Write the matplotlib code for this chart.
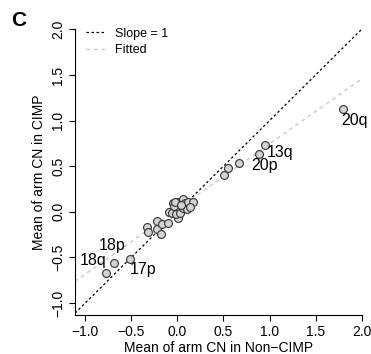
import matplotlib
matplotlib.use("Agg")
import matplotlib.pyplot as plt

plt.rcParams['font.family'] = ['Liberation Sans', 'DejaVu Sans']

# Mean arm CN: Non-CIMP (x) vs CIMP (y)
non_cimp = [-0.331, -0.313, -0.222, -0.216, -0.168, -0.179, -0.103, -0.092, -0.060,
            -0.042, -0.005, 0.012, -0.013, 0.030, 0.060, 0.066, 0.085, 0.103, 0.120,
            0.175, 0.139, -0.035, -0.020, 0.045,
            0.511, 0.548, 0.674, 0.887, 0.949, 1.795,
            -0.511, -0.685, -0.772]
cimp = [-0.168, -0.216, -0.095, -0.186, -0.131, -0.244, -0.117, 0.003, -0.014,
        0.102, 0.106, -0.069, -0.025, -0.014, 0.041, 0.139, 0.095, 0.030, 0.113,
        0.113, 0.051, 0.066, 0.110, 0.080,
        0.409, 0.479, 0.540, 0.635, 0.737, 1.125,
        -0.518, -0.555, -0.671]

# labelled arms: name, x, y, text offset (px)
arm_names = ['18p', '18q', '17p', '20p', '13q', '20q']
arm_x = [-0.685, -0.772, -0.511, 0.887, 0.949, 1.795]
arm_y = [-0.555, -0.671, -0.518, 0.635, 0.737, 1.125]
arm_off = [(-2, 17), (-13, 13), (13, -10), (5, -12), (15, -8), (12, -11)]

# fitted regression line
fit_intercept = 0.03
fit_slope = 0.714

fig = plt.figure(figsize=(3.71, 3.54), dpi=100)
ax = fig.add_axes([75/371, 39/354, 286.7/371, 285.7/354])

xlim = (-1.11, 2.0)
ylim = (-1.13, 2.0)

ax.plot(xlim, xlim, color='black', linestyle=(0, (2, 2)), linewidth=0.9, label='Slope = 1')
ax.plot(xlim, [fit_intercept + fit_slope * v for v in xlim], color='#c4c4c4',
        linestyle=(0, (3, 3)), linewidth=0.9, label='Fitted')

ax.scatter(non_cimp, cimp, s=32, facecolor='#d3d3d3', edgecolor='#333333',
           linewidth=0.8, zorder=3)

for name, x, y, off in zip(arm_names, arm_x, arm_y, arm_off):
    ax.annotate(name, (x, y), xytext=off, textcoords='offset pixels',
                ha='center', va='center', fontsize=11.5)

ax.set_xlim(*xlim)
ax.set_ylim(*ylim)
ax.set_xticks([-1.0, -0.5, 0.0, 0.5, 1.0, 1.5, 2.0])
ax.set_yticks([-1.0, -0.5, 0.0, 0.5, 1.0, 1.5, 2.0])
ax.set_xticklabels(['\u22121.0', '\u22120.5', '0.0', '0.5', '1.0', '1.5', '2.0'])
ax.set_yticklabels(['\u22121.0', '\u22120.5', '0.0', '0.5', '1.0', '1.5', '2.0'],
                   rotation=90, va='center')
ax.tick_params(labelsize=10, length=4, width=0.8, pad=3)
ax.spines['top'].set_visible(False)
ax.spines['right'].set_visible(False)

ax.set_xlabel('Mean of arm CN in Non\u2212CIMP', fontsize=10, labelpad=2)
ax.set_ylabel('Mean of arm CN in CIMP', fontsize=10, labelpad=4)

ax.legend(loc='upper left', bbox_to_anchor=(0.0, 1.045), frameon=False, fontsize=9,
          handlelength=1.6, handletextpad=0.7, labelspacing=0.35)

fig.text(19/371, 1 - 21/354, 'C', fontsize=15, fontweight='bold', ha='center', va='center')

fig.savefig('out.png', dpi=100)
